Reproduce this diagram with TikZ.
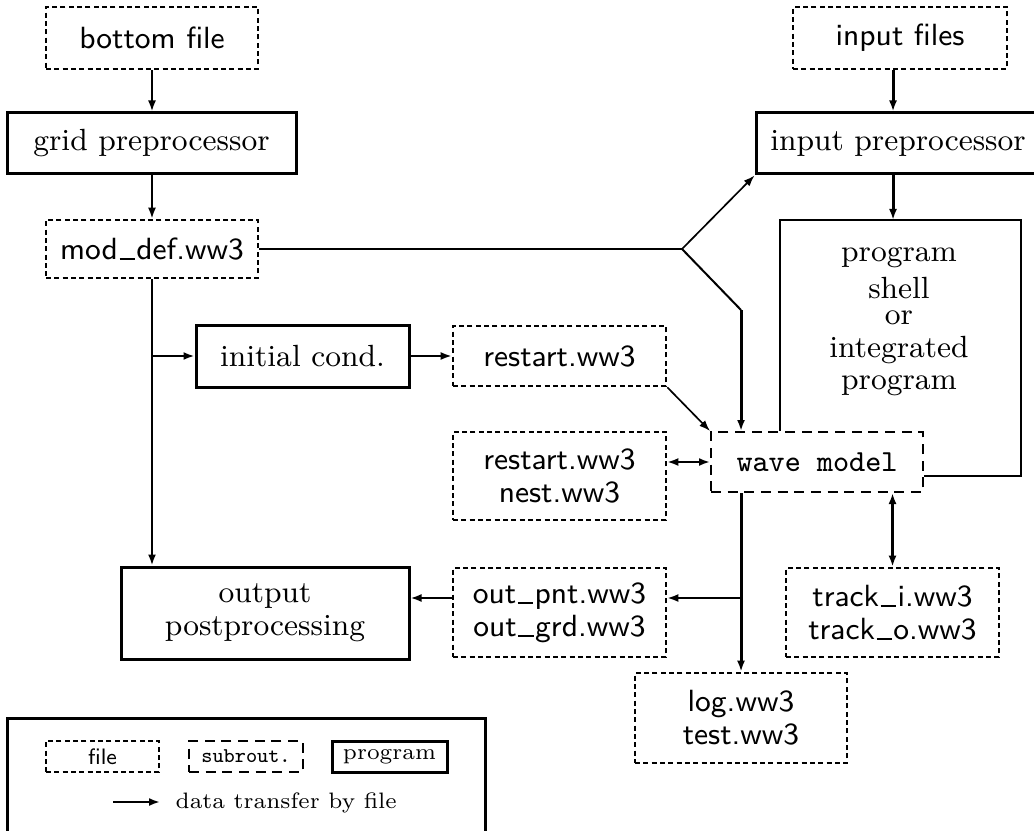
\documentclass[tikz,border=0pt]{standalone}
\usetikzlibrary{arrows.meta}
\newcommand\usc{\kern.05em\rule[-0.04em]{0.5em}{0.07em}\kern.05em}
\begin{document}
\begin{tikzpicture}[x=0.3pt,y=-0.3pt,
  fbox/.style={draw, line width=0.8pt, dash pattern=on 1.5pt off 1pt, inner sep=0pt, align=center, font=\fontsize{9.2}{9.9}\selectfont\sffamily},
  pbox/.style={draw, line width=0.9pt, inner sep=0pt, align=center, font=\fontsize{9.2}{9.9}\selectfont\rmfamily},
  sbox/.style={draw, line width=0.6pt, dash pattern=on 3pt off 2pt, inner sep=0pt, font=\fontsize{9.2}{9.9}\selectfont\ttfamily},
  ptext/.style={inner sep=0pt, anchor=base, font=\fontsize{9.2}{9.9}\selectfont\rmfamily},
  arr/.style={-{Latex[length=3.3pt,width=2.4pt]}, line width=0.6pt},
  tarr/.style={arr, line width=0.9pt},
  darr/.style={{Latex[length=3.3pt,width=2.4pt]}-{Latex[length=3.3pt,width=2.4pt]}, line width=0.6pt},
  link/.style={line width=0.6pt}]
\useasboundingbox (0,0) rectangle (1034,830);
\clip (0,0) rectangle (1034,830);

% boxes
\node[fbox, minimum width=63.6pt, minimum height=18.6pt] (bot) at (152,38) {bottom file};
\node[pbox, minimum width=86.7pt, minimum height=18.3pt] (grid) at (151.5,143.5) {grid preprocessor};
\node[fbox, minimum width=63.6pt, minimum height=17.4pt] (moddef) at (152,249) {mod\usc def.ww3};
\node[fbox, minimum width=64.2pt, minimum height=18.6pt] (infiles) at (900,38) {input files};
\node[pbox, minimum width=85.2pt, minimum height=18.3pt] (inpre) at (898,143.5) {input preprocessor};
\node[pbox, minimum width=63.9pt, minimum height=18.6pt] (init) at (302.5,356) {initial cond.};
\node[fbox, minimum width=63.9pt, minimum height=18pt] (rst) at (559.5,356) {restart.ww3};
\node[sbox, minimum width=63.6pt, minimum height=18pt] (wave) at (817,462) {wave model};
\node[fbox, minimum width=63.9pt, minimum height=26.4pt] (nest) at (559.5,476) {restart.ww3\\nest.ww3};
\node[pbox, minimum width=86.4pt, minimum height=27.6pt] (outp) at (265,613) {output\\postprocessing};
\node[fbox, minimum width=63.9pt, minimum height=26.7pt] (outf) at (559.5,612.5) {out\usc pnt.ww3\\out\usc grd.ww3};
\node[fbox, minimum width=63.9pt, minimum height=26.7pt] (track) at (892.5,612.5) {track\usc i.ww3\\track\usc o.ww3};
\node[fbox, minimum width=63.6pt, minimum height=27pt] (log) at (741,718) {log.ww3\\test.ww3};

% program shell (open box)
\coordinate (pgTL) at (780,220);
\coordinate (pgTR) at (1021,220);
\coordinate (pgBR) at (1021,476);
\draw[link] (pgTL |- wave.north) -- (pgTL) -- (pgTR) -- (pgBR) -- (pgBR -| wave.east);
\node[ptext] (p1) at (899,262) {program};
\node[ptext] (p2) at (899,298) {shell};
\node[ptext] (p3) at (899,324) {or};
\node[ptext] (p4) at (899,357) {integrated};
\node[ptext] (p5) at (899,389) {program};

% connectors
\draw[arr] (bot.south) -- (bot.south |- grid.north);
\draw[arr] (bot.south |- grid.south) -- (bot.south |- moddef.north);
\draw[tarr] ([xshift=-2.1pt]infiles.south) -- ([xshift=-2.1pt]infiles.south |- inpre.north);
\draw[tarr] ([xshift=-1.5pt]inpre.south) -- ([xshift=-1.5pt]inpre.south |- pgTL);

\coordinate (br) at (682,249);
\coordinate (bend) at (741,310);
\draw[link] (moddef.east) -- (br);
\draw[arr, line width=0.5pt] (br) -- (inpre.south west);
\draw[link] (br) -- (bend);
\draw[tarr] (bend) -- (bend |- wave.north);

\coordinate (j1) at (152,356);
\draw[arr] (moddef.south) -- (moddef.south |- outp.north);
\draw[arr] (j1) -- (init.west);
\draw[arr] (init.east) -- (rst.west);
\draw[arr, line width=0.5pt] (rst.south east) -- (wave.north west);
\draw[darr] (wave.west -| nest.east) -- (wave.west);

\coordinate (j2) at (741,598);
\draw[tarr] (bend |- wave.south) -- (bend |- log.north);
\draw[arr] (j2) -- (j2 -| outf.east);
\draw[arr] (j2 -| outf.west) -- (j2 -| outp.east);
\draw[darr, line width=0.9pt] (track.north) -- (track.north |- wave.south);

% legend
\node[draw, line width=0.9pt, minimum width=143.4pt, minimum height=38.1pt, inner sep=0pt] (legend) at (246,781.5) {};
\node[draw, line width=0.8pt, dash pattern=on 1.5pt off 1pt, minimum width=33.9pt, minimum height=9.3pt, inner sep=0pt, font=\fontsize{6.7}{8}\selectfont\sffamily] (lfile) at (102.5,756.5) {file};
\node[draw, line width=0.8pt, dash pattern=on 3pt off 2pt, minimum width=34.2pt, minimum height=9.3pt, inner sep=0pt, font=\fontsize{6.3}{8}\selectfont\ttfamily] (lsub) at (246,756.5) {subrout.};
\node[draw, line width=0.9pt, minimum width=34.5pt, minimum height=9.3pt, inner sep=0pt, font=\fontsize{6.7}{8}\selectfont\rmfamily] (lprog) at (389.5,756.5) {program};
\coordinate (la) at (113,802);
\coordinate (lb) at (160,802);
\draw[arr] (la) -- (lb);
\node[inner sep=0pt, anchor=base west, font=\fontsize{6.7}{8}\selectfont\rmfamily] (ltext) at (175,808) {data transfer by file};
\end{tikzpicture}
\end{document}
